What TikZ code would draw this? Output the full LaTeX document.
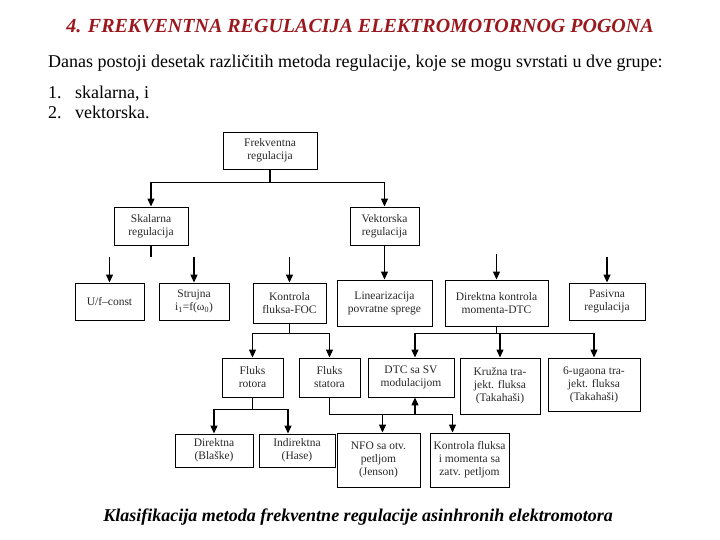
\documentclass[tikz,border=0pt]{standalone}
\usepackage{fontspec}
\setmainfont{Liberation Serif}
\usepackage{tikz}
\usetikzlibrary{arrows.meta, positioning, calc}
\definecolor{cTitle}{RGB}{155,25,30}
\definecolor{cBoxText}{RGB}{40,40,40}
\tikzset{
	kutija/.style ={rectangle, draw=black, line width=0.9pt, align=center, inner sep=1pt, text=cBoxText, font=\fontsize{11.5}{13}\selectfont},
	veza/.style   ={line width=1.1pt},
	strelica/.style={-{Triangle[length=8pt, width=7pt]}, line width=1.1pt},
}

\begin{document}
\begin{tikzpicture}[x=1pt, y=-1pt]
	\useasboundingbox (0,0) rectangle (720,540);
	% naslov i tekst
	\node[text=cTitle, font=\fontsize{20}{22}\selectfont\bfseries\itshape] (naslov) at (360,26) {4. FREKVENTNA REGULACIJA ELEKTROMOTORNOG POGONA};
	\node[anchor=base west, inner sep=0pt, font=\fontsize{18}{20}\selectfont] (uvod) at (48,68) {Danas postoji desetak različitih metoda regulacije, koje se mogu svrstati u dve grupe:};
	\node[anchor=base west, inner sep=0pt, font=\fontsize{18}{20}\selectfont] (br1) at (48,99) {1.};
	\node[anchor=base west, inner sep=0pt, font=\fontsize{18}{20}\selectfont] (st1) at (75,99) {skalarna, i};
	\node[anchor=base west, inner sep=0pt, font=\fontsize{18}{20}\selectfont] (br2) at (48,119) {2.};
	\node[anchor=base west, inner sep=0pt, font=\fontsize{18}{20}\selectfont] (st2) at (75,119) {vektorska.};
	% stablo
	\node[kutija, minimum width=94pt, minimum height=37pt] (frek) at (270,150.5) {Frekventna\\regulacija};
	\node[kutija, minimum width=74pt, minimum height=38pt] (skal) at (151,226) {Skalarna\\regulacija};
	\node[kutija, minimum width=69pt, minimum height=38pt] (vekt) at (384.5,226) {Vektorska\\regulacija};
	\node[kutija, minimum width=69pt, minimum height=37pt] (uf) at (109.5,301.5) {U/f--const};
	\node[kutija, minimum width=70pt, minimum height=37pt] (struj) at (194,301.5) {Strujna\\i\textsubscript{1}=f(ω\textsubscript{0})};
	\node[kutija, minimum width=73pt, minimum height=40pt] (foc) at (289.5,303) {Kontrola\\fluksa-FOC};
	\node[kutija, minimum width=95pt, minimum height=46pt] (lin) at (384.5,303) {Linearizacija\\povratne sprege};
	\node[kutija, minimum width=103pt, minimum height=46pt] (dtc) at (496.5,303) {Direktna kontrola\\momenta-DTC};
	\node[kutija, minimum width=76pt, minimum height=37pt] (pas) at (607,301.5) {Pasivna\\regulacija};
	\node[kutija, minimum width=61pt, minimum height=39pt] (frot) at (252.5,377.5) {Fluks\\rotora};
	\node[kutija, minimum width=61pt, minimum height=39pt] (fstat) at (329.5,377.5) {Fluks\\statora};
	\node[kutija, minimum width=86pt, minimum height=39pt] (dtcsv) at (411,377.5) {DTC sa SV\\modulacijom};
	\node[kutija, minimum width=80pt, minimum height=56pt] (kruz) at (500,386) {Kružna tra-\\jekt. fluksa\\(Takahaši)};
	\node[kutija, minimum width=92pt, minimum height=53pt] (ugao) at (594,384.5) {6-ugaona tra-\\jekt. fluksa\\(Takahaši)};
	\node[kutija, minimum width=78pt, minimum height=33pt] (dir) at (214,450.5) {Direktna\\(Blaške)};
	\node[kutija, minimum width=76pt, minimum height=33pt] (indir) at (297,450.5) {Indirektna\\(Hase)};
	\node[kutija, minimum width=83pt, minimum height=54pt] (nfo) at (378.5,460) {NFO sa otv.\\petljom\\(Jenson)};
	\node[kutija, minimum width=79pt, minimum height=54pt] (kfm) at (469.5,460) {Kontrola fluksa\\i momenta sa\\zatv. petljom};
	% veze
	\draw[strelica] (frek.south) -- ++(0,13) -| (skal.north);
	\draw[strelica] (frek.south) -- ++(0,13) -| (vekt.north);
	\draw[veza] (skal.south) -- ++(0,12);
	\foreach \k in {uf, struj, foc, dtc, pas}
		\draw[strelica] ($(\k.north)+(0,-26)$) -- (\k.north);
	\draw[strelica] (vekt.south) -- (lin.north);
	\draw[strelica] (foc.south) -- ++(0,10) -| (frot.north);
	\draw[strelica] (foc.south) -- ++(0,10) -| (fstat.north);
	\draw[strelica] (dtc.south) -- ++(0,7) -| ([xshift=4pt]dtcsv.north);
	\draw[strelica] (dtc.south) -- ++(0,7) -| (kruz.north);
	\draw[strelica] (dtc.south) -- ++(0,7) -| (ugao.north);
	\draw[strelica] (frot.south) -- ++(0,12) -| (dir.north);
	\draw[strelica] (frot.south) -- ++(0,12) -| ([xshift=-9pt]indir.north);
	\draw[strelica] (fstat.south) -- ++(0,17) -| ([xshift=4pt]dtcsv.south);
	\draw[strelica] (fstat.south) -- ++(0,17) -| ([xshift=4pt]nfo.north);
	\draw[strelica] (fstat.south) -- ++(0,17) -| ([xshift=-17pt]kfm.north);
	% potpis
	\node[font=\fontsize{18}{20}\selectfont\bfseries\itshape] (potpis) at (358,517) {Klasifikacija metoda frekventne regulacije asinhronih elektromotora};
\end{tikzpicture}
\end{document}
